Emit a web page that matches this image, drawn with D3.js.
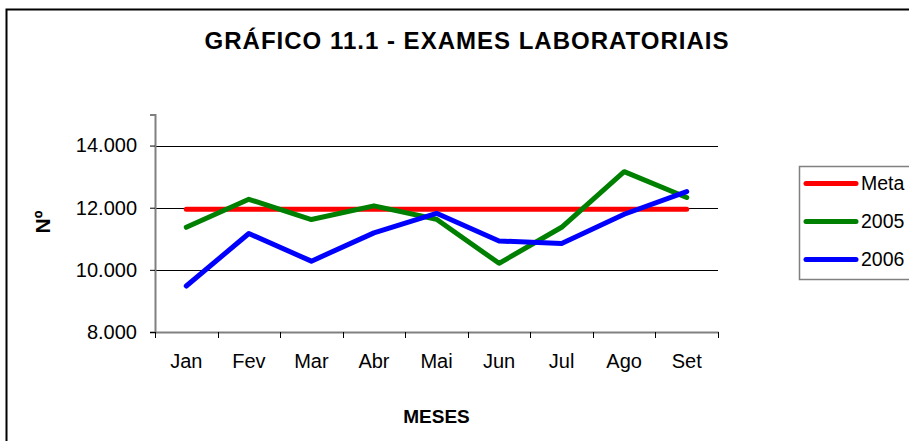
<!DOCTYPE html>
<html>
<head>
<meta charset="utf-8">
<script src="https://cdn.jsdelivr.net/npm/d3@7"></script>
<style>
  body { margin: 0; background: #fff; }
  svg { display: block; font-family: "Liberation Sans", Arial, sans-serif; }
</style>
</head>
<body>
<svg id="chart" width="909" height="441"></svg>
<script>
// chart data
const months = ['Jan', 'Fev', 'Mar', 'Abr', 'Mai', 'Jun', 'Jul', 'Ago', 'Set'];
const meta = [11950, 11950, 11950, 11950, 11950, 11950, 11950, 11950, 11950];
const serie2005 = [11370, 12270, 11620, 12060, 11630, 10210, 11370, 13160, 12330];
const serie2006 = [9480, 11170, 10280, 11190, 11820, 10930, 10850, 11790, 12520];
const yTicks = [8000, 10000, 12000, 14000];
const seriesNames = ['Meta', '2005', '2006'];
const seriesColors = ['#ff0000', '#008000', '#0000ff'];

const titleText = 'GRÁFICO 11.1 - EXAMES LABORATORIAIS';

let svg = d3.select('#chart');
let plot = {left: 155, right: 718, top: 114.5, bottom: 332};

// portuguese number format 14.000
let ptBR = d3.formatLocale({decimal: ',', thousands: '.', grouping: [3], currency: ['R$', '']});
let fmt = ptBR.format(',');

// outer chart border (runs off the right / bottom of the picture)
svg.append('rect')
    .attr('x', 6.5).attr('y', 9.5)
    .attr('width', 960).attr('height', 480)
    .attr('fill', 'none')
    .attr('stroke', '#000')
    .attr('stroke-width', 2);

// scales
let xScale = d3.scaleBand().domain(months).range([plot.left, plot.right]);
let yScale = d3.scaleLinear().domain([8000, 15000]).range([plot.bottom, plot.top]);
let xMid = function(i){ return xScale(months[i]) + xScale.bandwidth() / 2; };

// gridlines
svg.append('g')
    .selectAll('line')
    .data(yTicks.slice(1))
    .enter()
        .append('line')
        .attr('x1', plot.left)
        .attr('x2', plot.right)
        .attr('y1', function(d){ return Math.round(yScale(d)) + 0.5; })
        .attr('y2', function(d){ return Math.round(yScale(d)) + 0.5; })
        .attr('stroke', '#000')
        .attr('stroke-width', 1);

// y axis
let yAxis = svg.append('g')
    .attr('transform', 'translate(' + plot.left + ',0)')
    .call(d3.axisLeft(yScale).tickValues(yTicks).tickFormat(fmt).tickSize(5).tickPadding(13));
yAxis.select('.domain').attr('stroke', '#808080').attr('stroke-width', 2);
yAxis.selectAll('.tick line').attr('stroke', '#000');
yAxis.selectAll('text')
    .style('font-size', '20px')
    .style('font-family', '"Liberation Sans", Arial, sans-serif')
    .attr('fill', '#000');

// x axis - labels from the band scale, ticks at band edges
let xAxis = svg.append('g')
    .attr('transform', 'translate(0,' + plot.bottom + ')')
    .call(d3.axisBottom(xScale).tickSize(0).tickPadding(22));
xAxis.select('.domain').attr('stroke', '#808080').attr('stroke-width', 2);
xAxis.selectAll('text')
    .style('font-size', '20px')
    .style('font-family', '"Liberation Sans", Arial, sans-serif')
    .attr('fill', '#000');
let edges = months.map(function(m){ return xScale(m); }).concat([plot.right]);
svg.append('g')
    .selectAll('line')
    .data(edges)
    .enter()
        .append('line')
        .attr('x1', function(d){ return Math.round(d) + 0.5; })
        .attr('x2', function(d){ return Math.round(d) + 0.5; })
        .attr('y1', plot.bottom)
        .attr('y2', plot.bottom + 6)
        .attr('stroke', '#000');

// lines
let line = d3.line()
    .x(function(d, i){ return xMid(i); })
    .y(function(d){ return yScale(d); });
let allSeries = [meta, serie2005, serie2006];
svg.append('g')
    .selectAll('path')
    .data(allSeries)
    .enter()
        .append('path')
        .attr('d', line)
        .attr('fill', 'none')
        .attr('stroke', function(d, i){ return seriesColors[i]; })
        .attr('stroke-width', 5)
        .attr('stroke-linecap', 'round')
        .attr('stroke-linejoin', 'round');

// title
svg.append('text')
    .attr('x', 467)
    .attr('y', 49)
    .style('text-anchor', 'middle')
    .style('font-size', '24px')
    .style('letter-spacing', '1px')
    .style('font-weight', 'bold')
    .text(titleText);

// axis titles
svg.append('text')
    .attr('transform', 'translate(50,222) rotate(-90)')
    .style('text-anchor', 'middle')
    .style('font-size', '21px')
    .style('font-weight', 'bold')
    .text('Nº');
svg.append('text')
    .attr('x', (plot.left + plot.right) / 2)
    .attr('y', 423)
    .style('text-anchor', 'middle')
    .style('font-size', '19px')
    .style('font-weight', 'bold')
    .text('MESES');

// legend
let legend = svg.append('g');
legend.append('rect')
    .attr('x', 799.5).attr('y', 166.5)
    .attr('width', 150).attr('height', 113)
    .attr('fill', '#fff')
    .attr('stroke', '#808080')
    .attr('stroke-width', 1.5);
let items = legend.selectAll('g.item')
    .data(seriesNames)
    .enter()
        .append('g')
        .attr('class', 'item')
        .attr('transform', function(d, i){ return 'translate(0,' + (183.5 + i * 38) + ')'; });
items.append('line')
    .attr('x1', 806).attr('x2', 856)
    .attr('y1', 0).attr('y2', 0)
    .attr('stroke', function(d, i){ return seriesColors[i]; })
    .attr('stroke-width', 5)
    .attr('stroke-linecap', 'round');
items.append('text')
    .attr('x', 861)
    .attr('dy', '0.35em')
    .style('font-size', '19.5px')
    .text(function(d){ return d; });
</script>
</body>
</html>
